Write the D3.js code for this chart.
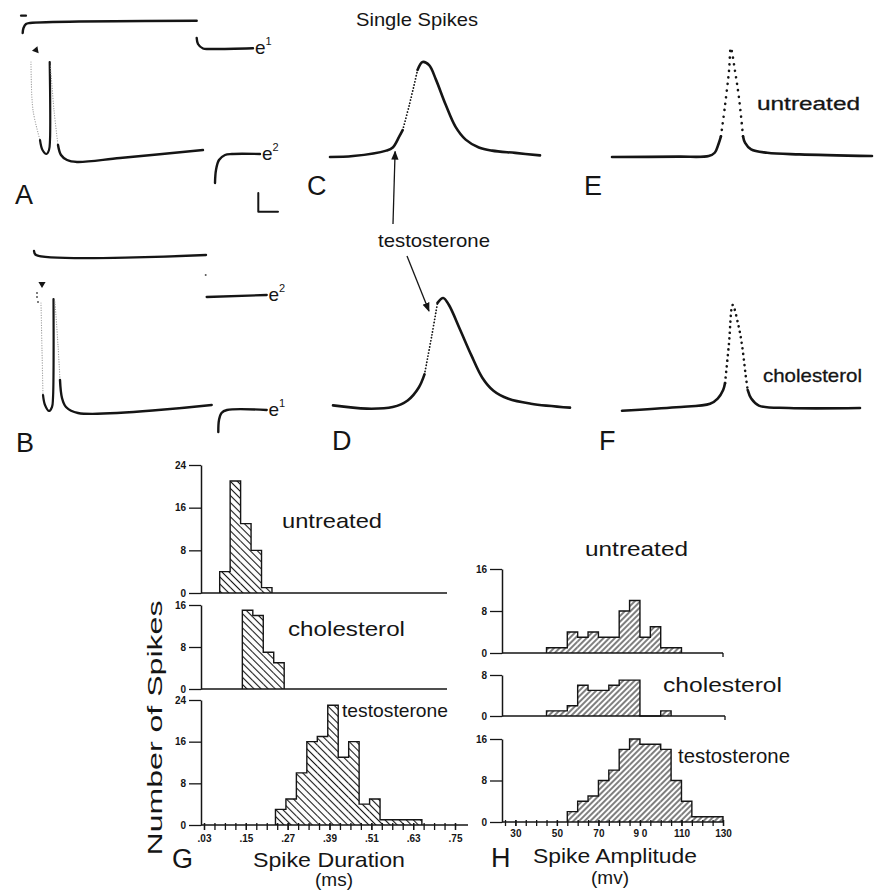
<!DOCTYPE html>
<html>
<head>
<meta charset="utf-8">
<script src="https://cdn.jsdelivr.net/npm/d3@7"></script>
<style>
  body { margin: 0; background: #fff; }
  svg text { font-family: "Liberation Sans", Arial, Helvetica, sans-serif; fill: #151515; }
</style>
</head>
<body>
<svg id="fig" width="886" height="892"></svg>
<script>
// ---------- histogram data (number of spikes per bin) ----------
const durationTickLabels = [".03", ".15", ".27", ".39", ".51", ".63", ".75"];
const durationTickValues = [0.03, 0.15, 0.27, 0.39, 0.51, 0.63, 0.75];
const amplitudeTickLabels = ["30", "50", "70", "9 0", "110", "130"];
const amplitudeTickValues = [30, 50, 70, 90, 110, 130];

const durationBin = 0.03; // ms
const amplitudeBin = 5;   // mv

const durUntreatedStart = 0.075;
const durUntreated = [4, 21, 13, 8, 1];
const durCholesterolStart = 0.14;
const durCholesterol = [15, 14, 7, 5];
const durTestosteroneStart = 0.235;
const durTestosterone = [3, 5, 10, 16, 17, 23, 13, 16, 4, 5, 1, 1, 1, 1];

const ampUntreatedStart = 45;
const ampUntreated = [1, 1, 4, 3, 4, 3, 3, 8, 10, 3, 5, 1, 1];
const ampCholesterolStart = 45;
const ampCholesterol = [1, 1, 2, 6, 5, 5, 6, 7, 7, 0, 0, 1];
const ampTestosteroneStart = 55;
const ampTestosterone = [2, 4, 5, 8, 10, 14, 16, 15, 15, 14, 8, 4, 1, 1, 1];

// ---------- spike traces: [time, relative voltage], 0..100 ----------
const cSolidA = [[0, 0], [11, 1], [26.8, 6.7], [29.9, 10], [33, 21.7], [34.6, 28.3]];
const cDots = [[34.6, 28.3], [37.8, 55], [41.7, 91.7]];
const cSolidB = [[41.7, 91.7], [44.1, 100], [47.2, 96.7], [50.4, 81.7], [55.1, 55], [59.8, 31.7],
  [64.6, 18.3], [70.9, 10], [77.2, 6.7], [88.2, 4.3], [100, 1.7]];

const dSolidA = [[0, 1.5], [14.2, -1.5], [25.2, 0], [31.5, 6], [36.2, 17.9], [38.6, 29.9]];
const dDots = [[38.6, 29.9], [41.7, 65.7], [44.1, 95.5]];
const dSolidB = [[44.1, 95.5], [46.5, 100], [48.8, 94], [53.5, 71.6], [58.3, 47.8], [63, 26.9],
  [67.7, 14.9], [74, 7.5], [83.5, 3], [100, -0.6]];

const eSolidA = [[0, 0], [25.6, 0.3], [37.2, 0.9], [39.5, 3.9], [41.1, 12.9], [41.9, 18.9]];
const eDots = [[41.9, 18.9], [43.4, 45.9], [45, 79], [45.7, 100], [47.3, 79], [48.8, 55], [50.4, 18.9]];
const eSolidB = [[50.4, 18.9], [51.2, 12.9], [53.5, 6.9], [59.7, 3.9], [72.1, 2.4], [100, 0.9]];

const fSolidA = [[0, -1.7], [22.8, 1.7], [37, 5], [40.2, 10], [42.5, 18.3], [43.3, 25]];
const fDots = [[43.3, 25], [44.9, 61.7], [46.5, 100], [48.8, 81.7], [50.4, 61.7], [52, 31.7], [52.8, 18.3]];
const fSolidB = [[52.8, 18.3], [54.3, 10], [57.5, 3.3], [70.1, 1], [100, 1]];

// ---------- double-spike records A and B: [ms, trace units] ----------
const aTop = [[0.27, 13.2], [0.35, 13.7], [0.6, 14.1], [1.0, 14.2], [17.67, 14.43]];
const aDash = [[0.1, 14.93], [0.6, 14.93]];
const aFaint1 = [[1.1, 10.3], [1.3, 5.5], [2.0, 2.5]];
const aSpike = [[2.0, 2.5], [2.25, 1.5], [2.65, 1.1], [2.9, 1.5], [3.0, 2.5], [2.97, 10.3]];
const aFaint2 = [[3.05, 9.9], [3.4, 5.5], [3.8, 2.0]];
const aTail = [[3.8, 2.0], [4.1, 1.0], [4.7, 0.5], [5.7, 0.3], [10, 0.7], [18.3, 1.5]];
const aE1 = [[17.67, 12.7], [17.8, 12.1], [18.3, 11.65], [19, 11.6], [23.3, 11.67]];
const aE2 = [[19.5, -1.8], [19.6, -0.5], [19.9, 0.5], [20.5, 1.0], [21.2, 1.1], [24, 1.1]];
const aArrow = [1.6, 11.5];
const scaleBar = [[23.83, -2.8], [23.83, -4.67], [25.8, -4.67]];

const bTop = [[1.4, 14.4], [1.6, 14.0], [18.6, 14.0]];
const bDot = [18.57, 12.0];
const bE2 = [[18.67, 9.8], [24.67, 10.0]];
const bArrow = [2.2, 11.1];
const bDots = [[1.7, 10.2], [1.7, 9.8], [1.8, 9.3]];
const bFaint1 = [[2.1, 9.2], [2.2, 4.5], [2.3, 0]];
const bSpike = [[2.3, 0], [2.5, -1.0], [2.9, -1.6], [3.2, -1.2], [3.3, -0.3], [3.35, 9.6]];
const bFaint2 = [[3.5, 9.3], [3.8, 5.0], [4.0, 1.5]];
const bTail = [[4.0, 1.5], [4.2, -0.3], [4.6, -1.2], [5.8, -1.8], [19.17, -1.0]];
const bE1 = [[19.83, -3.7], [19.9, -2.5], [20.15, -1.8], [20.7, -1.5], [24.67, -1.5]];

// ---------- drawing ----------
const ink = "#151515";
const svg = d3.select("#fig");
const defs = svg.append("defs");

function hatch(id, angle, gap) {
  const p = defs.append("pattern")
    .attr("id", id)
    .attr("patternUnits", "userSpaceOnUse")
    .attr("width", gap).attr("height", gap)
    .attr("patternTransform", `rotate(${angle})`);
  p.append("line")
    .attr("x1", gap / 2).attr("x2", gap / 2)
    .attr("y1", -1).attr("y2", gap + 1)
    .attr("stroke", ink).attr("stroke-width", 1.1);
}
hatch("hatchG", -45, 5);
hatch("hatchH", 45, 4);

function label(txt, x, y, size, opts = {}) {
  const t = svg.append("text")
    .attr("x", x).attr("y", y)
    .attr("font-size", size)
    .attr("text-anchor", opts.anchor || "start")
    .text(txt);
  if (opts.len) t.attr("textLength", opts.len).attr("lengthAdjust", "spacingAndGlyphs");
  if (opts.weight) t.attr("font-weight", opts.weight);
  if (opts.heavy) t.attr("stroke", ink).attr("stroke-width", opts.heavy);
  return t;
}

function histPanel(p) {
  const y = d3.scaleLinear().domain([0, p.yMax]).range([p.base, p.top]);
  const g = svg.append("g");
  const bins = p.counts.map((c, i) => ({
    x0: p.start + i * p.width,
    x1: p.start + (i + 1) * p.width,
    c: c
  }));

  g.selectAll("rect.bar")
    .data(bins.filter(b => b.c > 0))
    .join("rect")
    .attr("class", "bar")
    .attr("x", d => p.x(d.x0))
    .attr("y", d => y(d.c))
    .attr("width", d => p.x(d.x1) - p.x(d.x0))
    .attr("height", d => y(0) - y(d.c))
    .attr("fill", `url(#${p.hatch})`);

  // step outline of the histogram, no inner bar walls
  const outline = [[bins[0].x0, 0]];
  bins.forEach(b => outline.push([b.x0, b.c], [b.x1, b.c]));
  outline.push([bins[bins.length - 1].x1, 0]);
  g.append("path")
    .datum(outline)
    .attr("d", d3.line().x(d => p.x(d[0])).y(d => y(d[1])))
    .attr("fill", "none")
    .attr("stroke", ink)
    .attr("stroke-width", 1.4);

  // baseline
  g.append("line")
    .attr("x1", p.axisX).attr("x2", p.axisEnd)
    .attr("y1", y(0)).attr("y2", y(0))
    .attr("stroke", ink).attr("stroke-width", 1.5);
  if (p.endTick) {
    g.append("line")
      .attr("x1", p.axisEnd).attr("x2", p.axisEnd)
      .attr("y1", y(0)).attr("y2", y(0) + 4)
      .attr("stroke", ink).attr("stroke-width", 1.3);
  }

  const ya = g.append("g")
    .attr("transform", `translate(${p.axisX},0)`)
    .call(d3.axisLeft(y).tickValues(p.yTicks).tickSize(12).tickSizeOuter(0).tickPadding(3).tickFormat(d3.format("d")));
  ya.attr("font-family", null);
  ya.select(".domain").attr("stroke", ink).attr("stroke-width", 1.5);
  ya.selectAll(".tick line").attr("stroke", ink).attr("stroke-width", 1.3);
  ya.selectAll(".tick text").attr("font-size", 10).attr("font-weight", "bold").attr("fill", ink);
  return y;
}

// ---- G: spike duration ----
const xDur = d3.scaleLinear().domain([0.03, 0.75]).range([204, 455]);
histPanel({ x: xDur, axisX: 201, axisEnd: 447, base: 593, top: 465, yMax: 24, yTicks: [0, 8, 16, 24],
  start: durUntreatedStart, width: durationBin, counts: durUntreated, hatch: "hatchG" });
histPanel({ x: xDur, axisX: 201, axisEnd: 447, base: 689, top: 605, yMax: 16, yTicks: [0, 8, 16],
  start: durCholesterolStart, width: durationBin, counts: durCholesterol, hatch: "hatchG" });
histPanel({ x: xDur, axisX: 201, axisEnd: 468, base: 825, top: 700, yMax: 24, yTicks: [0, 8, 16, 24],
  start: durTestosteroneStart, width: durationBin, counts: durTestosterone, hatch: "hatchG" });

const durMinor = d3.range(0, 25).map(i => 0.03 + i * durationBin);
const gxMinor = svg.append("g").attr("transform", "translate(0,825)")
  .call(d3.axisBottom(xDur).tickValues(durMinor).tickSize(5).tickSizeOuter(0).tickFormat(""));
const gxMajor = svg.append("g").attr("transform", "translate(0,825)")
  .call(d3.axisBottom(xDur).tickValues(durationTickValues).tickSize(5).tickSizeOuter(0).tickPadding(5)
    .tickFormat((d, i) => durationTickLabels[i]));
[gxMinor, gxMajor].forEach(a => {
  a.attr("font-family", null);
  a.select(".domain").remove();
  a.selectAll(".tick line").attr("stroke", ink).attr("stroke-width", 1.3).attr("y1", -2);
});
gxMajor.selectAll(".tick text").attr("font-size", 10).attr("font-weight", "bold").attr("fill", ink);

// ---- H: spike amplitude ----
const xAmp = d3.scaleLinear().domain([25, 130]).range([505, 723]);
histPanel({ x: xAmp, axisX: 502, axisEnd: 723, endTick: true, base: 653, top: 569, yMax: 16, yTicks: [0, 8, 16],
  start: ampUntreatedStart, width: amplitudeBin, counts: ampUntreated, hatch: "hatchH" });
histPanel({ x: xAmp, axisX: 502, axisEnd: 725, endTick: true, base: 716, top: 675, yMax: 8, yTicks: [0, 8],
  start: ampCholesterolStart, width: amplitudeBin, counts: ampCholesterol, hatch: "hatchH" });
histPanel({ x: xAmp, axisX: 502, axisEnd: 724, base: 822, top: 739, yMax: 16, yTicks: [0, 8, 16],
  start: ampTestosteroneStart, width: amplitudeBin, counts: ampTestosterone, hatch: "hatchH" });

const ampMinor = d3.range(0, 22).map(i => 25 + i * amplitudeBin);
const hxMinor = svg.append("g").attr("transform", "translate(0,822)")
  .call(d3.axisBottom(xAmp).tickValues(ampMinor).tickSize(4).tickSizeOuter(0).tickFormat(""));
const hxMajor = svg.append("g").attr("transform", "translate(0,822)")
  .call(d3.axisBottom(xAmp).tickValues(amplitudeTickValues).tickSize(4).tickSizeOuter(0).tickPadding(4)
    .tickFormat((d, i) => amplitudeTickLabels[i]));
[hxMinor, hxMajor].forEach(a => {
  a.attr("font-family", null);
  a.select(".domain").remove();
  a.selectAll(".tick line").attr("stroke", ink).attr("stroke-width", 1.3).attr("y1", -2);
});
hxMajor.selectAll(".tick text").attr("font-size", 10).attr("font-weight", "bold").attr("fill", ink);

// histogram labels
label("untreated", 282, 528, 21, { len: 100 });
label("cholesterol", 288, 636, 21, { len: 117 });
label("testosterone", 342, 717, 19, { len: 106 });
label("untreated", 585, 556, 21, { len: 103 });
label("cholesterol", 663, 692, 21, { len: 119 });
label("testosterone", 678, 763, 20, { len: 112 });
label("Spike Duration", 253, 867, 21, { len: 152 });
label("(ms)", 334, 886, 19, { anchor: "middle" });
label("Spike Amplitude", 533, 863, 21, { len: 164 });
label("(mv)", 610, 884, 19, { anchor: "middle" });
svg.append("text")
  .attr("transform", "translate(162,728) rotate(-90)")
  .attr("text-anchor", "middle")
  .attr("font-size", 20)
  .attr("textLength", 255).attr("lengthAdjust", "spacingAndGlyphs")
  .text("Number of Spikes");

// ---- A and B: double-spike records ----
const xAB = d3.scaleLinear().domain([0, 25]).range([20, 270]);
const yA = d3.scaleLinear().domain([0, 15]).range([165, 15]);
const yB = d3.scaleLinear().domain([0, 15]).range([395, 245]);

function trace(pts, xs, ys, style) {
  const curve = style.linear ? d3.curveLinear : d3.curveCatmullRom.alpha(0.5);
  const path = svg.append("path")
    .datum(pts)
    .attr("d", d3.line().x(d => xs(d[0])).y(d => ys(d[1])).curve(curve))
    .attr("fill", "none")
    .attr("stroke", style.color || ink)
    .attr("stroke-width", style.width || 2.4)
    .attr("stroke-linecap", "round")
    .attr("stroke-linejoin", "round");
  if (style.dash) path.attr("stroke-dasharray", style.dash);
  return path;
}

const solid = { width: 2.4 };
const faint = { width: 1.2, color: "#9a9a9a", dash: "0.1 2.4" };

trace(aDash, xAB, yA, { width: 2.2, linear: true });
trace(aTop, xAB, yA, solid);
trace(aFaint1, xAB, yA, faint);
trace(aSpike, xAB, yA, { width: 2.2 });
trace(aFaint2, xAB, yA, faint);
trace(aTail, xAB, yA, solid);
trace(aE1, xAB, yA, solid);
trace(aE2, xAB, yA, solid);
trace(scaleBar, xAB, yA, { width: 2, linear: true });

trace(bTop, xAB, yB, solid);
trace(bE2, xAB, yB, { width: 2.4, linear: true });
trace(bFaint1, xAB, yB, faint);
trace(bSpike, xAB, yB, { width: 2.2 });
trace(bFaint2, xAB, yB, faint);
trace(bTail, xAB, yB, solid);
trace(bE1, xAB, yB, solid);

svg.selectAll("circle.dot")
  .data(bDots.map(d => [xAB(d[0]), yB(d[1])]).concat([[xAB(bDot[0]), yB(bDot[1])]]))
  .join("circle")
  .attr("class", "dot")
  .attr("cx", d => d[0]).attr("cy", d => d[1])
  .attr("r", 1).attr("fill", "#555");

const tri = d3.symbol().type(d3.symbolTriangle).size(22);
svg.append("path").attr("d", tri())
  .attr("transform", `translate(${xAB(aArrow[0])},${yA(aArrow[1])}) rotate(-100)`).attr("fill", ink);
svg.append("path").attr("d", tri())
  .attr("transform", `translate(${xAB(bArrow[0])},${yB(bArrow[1])}) rotate(-60)`).attr("fill", ink);

function eLabel(x, y, sup) {
  const t = svg.append("text").attr("x", x).attr("y", y).attr("font-size", 19);
  t.append("tspan").text("e");
  t.append("tspan").attr("dy", -9).attr("font-size", 11).text(sup);
}
eLabel(xAB(23.5), yA(11.67) + 6, "1");
eLabel(xAB(24.2), yA(1.1) + 6, "2");
eLabel(xAB(24.85), yB(10.0) + 6, "2");
eLabel(xAB(24.85), yB(-1.5) + 6, "1");

// ---- C-F: single spikes ----
function spikePanel(x0, x1, yBase, yPeak, parts, dotStyle) {
  const xs = d3.scaleLinear().domain([0, 100]).range([x0, x1]);
  const ys = d3.scaleLinear().domain([0, 100]).range([yBase, yPeak]);
  trace(parts[0], xs, ys, { width: 2.6 });
  trace(parts[1], xs, ys, dotStyle);
  trace(parts[2], xs, ys, { width: 2.6 });
  return { xs, ys };
}
const C = spikePanel(330, 540, 157, 62, [cSolidA, cDots, cSolidB], { width: 1.8, dash: "0.1 3" });
const D = spikePanel(333, 570, 407, 298, [dSolidA, dDots, dSolidB], { width: 1.8, dash: "0.1 3" });
spikePanel(612, 872, 157, 48, [eSolidA, eDots, eSolidB], { width: 2.6, dash: "0.1 6.5" });
spikePanel(622, 860, 409, 305, [fSolidA, fDots, fSolidB], { width: 2.6, dash: "0.1 5.5" });

// arrows from "testosterone" to the C and D spikes
defs.append("marker")
  .attr("id", "head").attr("viewBox", "0 0 10 10")
  .attr("refX", 9).attr("refY", 5)
  .attr("markerWidth", 7).attr("markerHeight", 7)
  .attr("orient", "auto-start-reverse")
  .append("path").attr("d", "M0,1 L10,5 L0,9 Z").attr("fill", ink);

svg.append("line")
  .attr("x1", 393).attr("y1", 224).attr("x2", C.xs(31)).attr("y2", C.ys(9) + 3)
  .attr("stroke", ink).attr("stroke-width", 1.3).attr("marker-end", "url(#head)");
svg.append("line")
  .attr("x1", 407).attr("y1", 256).attr("x2", D.xs(40.5)).attr("y2", D.ys(88))
  .attr("stroke", ink).attr("stroke-width", 1.3).attr("marker-end", "url(#head)");

// titles and panel letters
label("Single Spikes", 356, 26, 19, { len: 122 });
label("testosterone", 378, 247, 19, { len: 112 });
label("untreated", 757, 110, 19, { len: 103, heavy: 0.3 });
label("cholesterol", 763, 382, 19, { len: 99, heavy: 0.3 });

label("A", 15, 204, 27);
label("B", 16, 452, 27);
label("C", 307, 195, 27);
label("D", 332, 450, 27);
label("E", 584, 195, 27);
label("F", 599, 450, 27);
label("G", 172, 868, 27);
label("H", 491, 867, 27);
</script>
</body>
</html>
